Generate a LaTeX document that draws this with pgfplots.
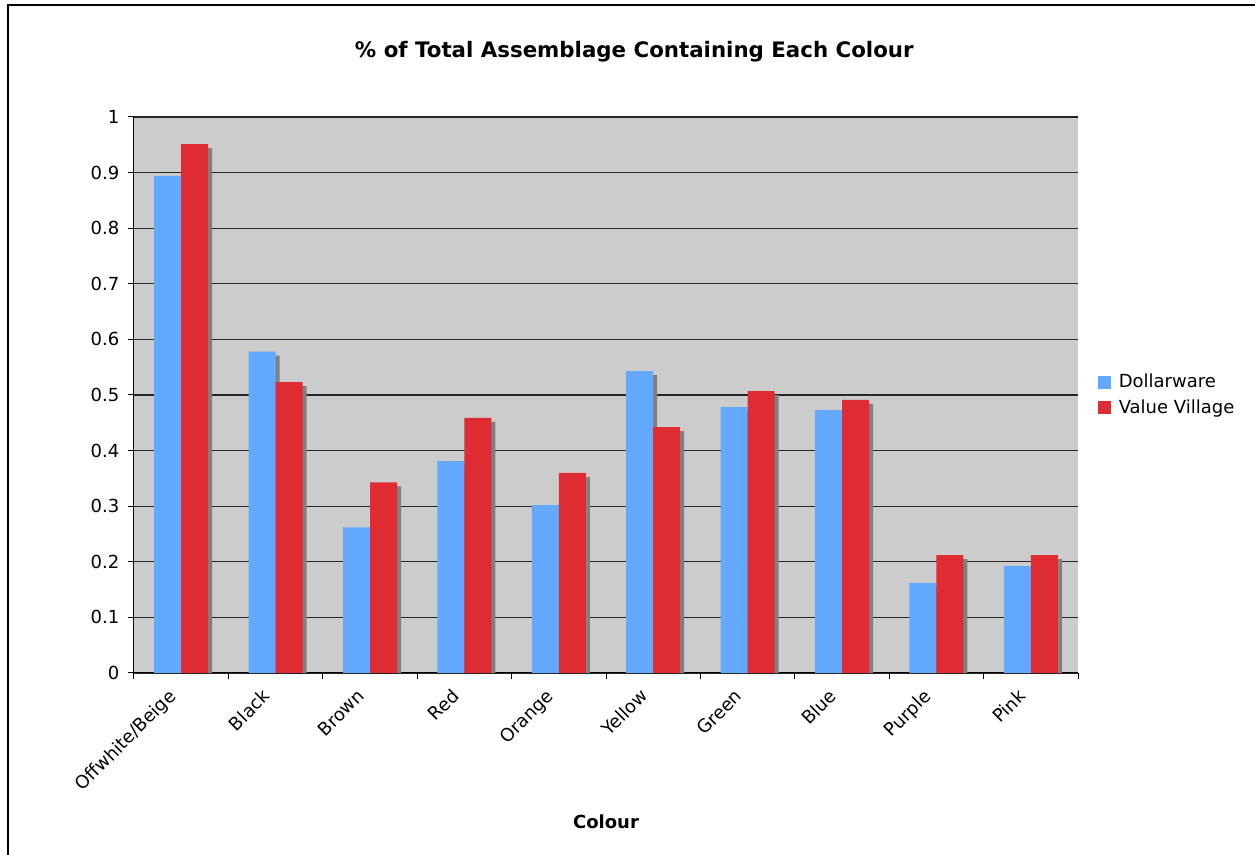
\documentclass[border=0pt]{standalone}
\usepackage{fontspec}
\setmainfont{DejaVu Sans}
\usepackage{pgfplots}
\usepackage{pgfplotstable}
\pgfplotsset{compat=1.18}
\definecolor{plotbg}{HTML}{CCCCCC}
\definecolor{dblue}{HTML}{63A9FF}
\definecolor{vred}{HTML}{DE2C32}
\definecolor{shadowgray}{HTML}{808080}

\pgfplotstableread{
x dollar village
0 0.894 0.951
1 0.578 0.523
2 0.262 0.343
3 0.381 0.459
4 0.302 0.360
5 0.543 0.442
6 0.478 0.507
7 0.473 0.491
8 0.162 0.212
9 0.192 0.212
}\datatable

\newcommand{\lblfont}{\fontsize{13.5}{16}\selectfont}
\newcommand{\titlefont}{\fontsize{16}{19}\selectfont}

\begin{document}
\begin{tikzpicture}
\path[use as bounding box] (-100.5pt,-136.5pt) rectangle (840.75pt,504.75pt);
\draw[black, line width=1.5pt] (-94.5pt,-136.5pt) -- (-94.5pt,501pt) -- (840.75pt,501pt);
\begin{axis}[
  scale only axis,
  width=708pt, height=417pt,
  at={(0,0)}, anchor=south west,
  xmin=-0.5, xmax=9.5,
  ymin=0, ymax=1,
  axis background/.style={fill=plotbg},
  axis x line*=bottom,
  axis y line*=left,
  axis line style={black, line width=0.75pt, -},
  ytick={0,0.1,0.2,0.3,0.4,0.5,0.6,0.7,0.8,0.9,1},
  yticklabels={0,0.1,0.2,0.3,0.4,0.5,0.6,0.7,0.8,0.9,1},
  ymajorgrids=true,
  major grid style={black!85, line width=1pt},
  xtick={0,...,9},
  xticklabels={Offwhite/Beige,Black,Brown,Red,Orange,Yellow,Green,Blue,Purple,Pink},
  major x tick style={draw=none},
  minor xtick={-0.5,0.5,1.5,2.5,3.5,4.5,5.5,6.5,7.5,8.5,9.5},
  minor x tick style={black, line width=0.75pt},
  minor tick length=4.5pt,
  major tick length=4.5pt,
  tick align=outside,
  major y tick style={black, line width=0.75pt},
  tick label style={font=\lblfont},
  /pgf/number format/assume math mode=true,
  yticklabel style={xshift=-3pt},
  xticklabel style={xshift=-10.5pt, yshift=-5pt, rotate=45, anchor=north east, inner sep=1pt},
  title={\% of Total Assemblage Containing Each Colour},
  title style={at={(0.53,1.1025)}, anchor=center, font=\bfseries\titlefont},
  xlabel={Colour},
  xlabel style={at={(0.5,-0.268)}, anchor=center, font=\bfseries\lblfont},
  legend style={at={(1.021,0.5)}, anchor=west, draw=none, fill=none,
    font=\lblfont, row sep=3.5pt, inner sep=0pt},
  legend cell align=left,
  sqlegend/.style={legend image code/.code={\fill[##1,/tikz/.cd,draw=none] (0pt,-4.9pt) rectangle (9.75pt,4.9pt); \path (0pt,0pt) -- (13.5pt,0pt);}},
]
\addplot[ybar, bar width=20.25pt, bar shift=-10.125pt, fill=shadowgray, draw=none, xshift=3pt, yshift=-3pt, forget plot] table[x=x, y=dollar] {\datatable};
\addplot[ybar, bar width=20.25pt, bar shift=10.125pt, fill=shadowgray, draw=none, xshift=3pt, yshift=-3pt, forget plot] table[x=x, y=village] {\datatable};
\addplot[ybar, bar width=20.25pt, bar shift=-10.125pt, fill=dblue, draw=none, sqlegend] table[x=x, y=dollar] {\datatable};
\addlegendentry{Dollarware}
\addplot[ybar, bar width=20.25pt, bar shift=10.125pt, fill=vred, draw=none, sqlegend] table[x=x, y=village] {\datatable};
\addlegendentry{Value Village}
\end{axis}
\end{tikzpicture}
\end{document}
